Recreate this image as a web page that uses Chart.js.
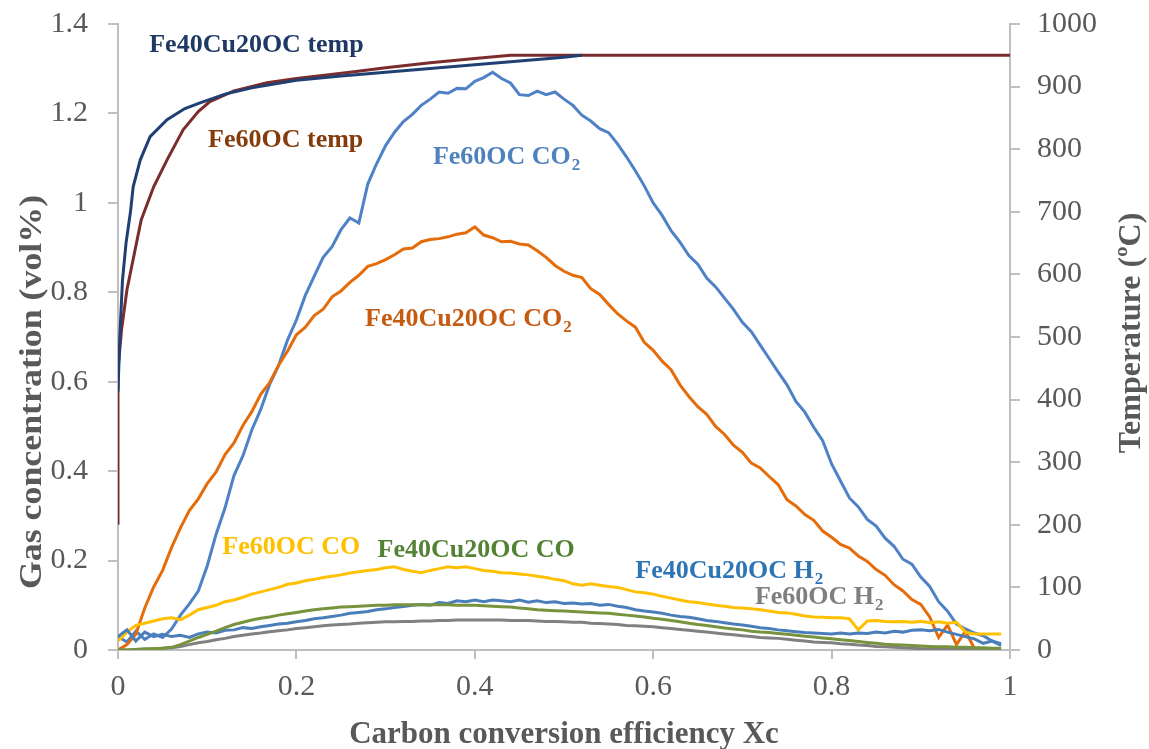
<!DOCTYPE html>
<html>
<head>
<meta charset="utf-8">
<script src="https://cdn.jsdelivr.net/npm/chart.js@4.4.1/dist/chart.umd.min.js"></script>
<style>
  body { margin: 0; background: #fff; }
  #wrap { width: 1149px; height: 749px; }
</style>
</head>
<body>
<div id="wrap"><canvas id="gasChart" width="1149" height="749"></canvas></div>
<script>
// carbon conversion efficiency, shared by all gas series
const xc = [
  0.00, 0.01, 0.02, 0.03, 0.04, 0.05, 0.06, 0.07, 0.08, 0.09,
  0.10, 0.11, 0.12, 0.13, 0.14, 0.15, 0.16, 0.17, 0.18, 0.19,
  0.20, 0.21, 0.22, 0.23, 0.24, 0.25, 0.26, 0.27, 0.28, 0.29,
  0.30, 0.31, 0.32, 0.33, 0.34, 0.35, 0.36, 0.37, 0.38, 0.39,
  0.40, 0.41, 0.42, 0.43, 0.44, 0.45, 0.46, 0.47, 0.48, 0.49,
  0.50, 0.51, 0.52, 0.53, 0.54, 0.55, 0.56, 0.57, 0.58, 0.59,
  0.60, 0.61, 0.62, 0.63, 0.64, 0.65, 0.66, 0.67, 0.68, 0.69,
  0.70, 0.71, 0.72, 0.73, 0.74, 0.75, 0.76, 0.77, 0.78, 0.79,
  0.80, 0.81, 0.82, 0.83, 0.84, 0.85, 0.86, 0.87, 0.88, 0.89,
  0.90, 0.91, 0.92, 0.93, 0.94, 0.95, 0.96, 0.97, 0.98, 0.99
];

// gas concentrations (vol%)
const co2Fe60 = [
  0.03, 0.018, 0.042, 0.024, 0.036, 0.028, 0.047, 0.078, 0.103, 0.132,
  0.188, 0.259, 0.318, 0.39, 0.434, 0.492, 0.538, 0.594, 0.636, 0.693,
  0.738, 0.793, 0.836, 0.878, 0.902, 0.94, 0.966, 0.955, 1.042, 1.088,
  1.128, 1.158, 1.182, 1.198, 1.218, 1.232, 1.248, 1.245, 1.256, 1.255,
  1.272, 1.28, 1.292, 1.278, 1.268, 1.242, 1.24, 1.25, 1.242, 1.248,
  1.232, 1.218, 1.196, 1.183, 1.166, 1.157, 1.132, 1.103, 1.072, 1.038,
  1.0, 0.972, 0.938, 0.912, 0.882, 0.863, 0.832, 0.812, 0.787, 0.762,
  0.733, 0.712, 0.682, 0.652, 0.622, 0.593, 0.556, 0.532, 0.498, 0.468,
  0.416, 0.378, 0.34, 0.32, 0.292, 0.277, 0.25, 0.232, 0.203, 0.192,
  0.163, 0.142, 0.108, 0.087, 0.058, 0.047, 0.038, 0.032, 0.02, 0.014
];
const co2Fe40Cu = [
  0.0, 0.012, 0.035, 0.094, 0.141, 0.178, 0.229, 0.273, 0.312, 0.338,
  0.372, 0.398, 0.437, 0.463, 0.502, 0.533, 0.572, 0.598, 0.637, 0.668,
  0.705, 0.722, 0.748, 0.762, 0.79, 0.803, 0.822, 0.838, 0.858, 0.864,
  0.873, 0.884, 0.897, 0.899, 0.913, 0.918, 0.92, 0.924, 0.93, 0.933,
  0.946, 0.928, 0.922, 0.913, 0.914, 0.908, 0.906, 0.893, 0.878, 0.86,
  0.847, 0.838, 0.833, 0.808, 0.795, 0.773, 0.752, 0.736, 0.722, 0.688,
  0.67, 0.646, 0.627, 0.593, 0.567, 0.544, 0.527, 0.5, 0.482, 0.458,
  0.442, 0.418, 0.407, 0.388, 0.37, 0.336, 0.322, 0.303, 0.29, 0.266,
  0.252, 0.236, 0.228, 0.21, 0.198, 0.18, 0.167, 0.146, 0.132, 0.113,
  0.102, 0.074, 0.028, 0.056, 0.012, 0.042, 0.004, null, null, null
];
const coFe60 = [
  0.02, 0.04, 0.055, 0.06, 0.065, 0.07, 0.072, 0.068, 0.078, 0.09,
  0.095, 0.1, 0.108, 0.112, 0.118, 0.125, 0.13, 0.135, 0.14, 0.147,
  0.15, 0.155, 0.158, 0.162, 0.165, 0.168, 0.172, 0.175, 0.178, 0.18,
  0.184, 0.186, 0.18, 0.176, 0.173, 0.178, 0.182, 0.186, 0.184, 0.186,
  0.182, 0.178, 0.176, 0.173, 0.172, 0.17, 0.168, 0.165, 0.162, 0.158,
  0.155, 0.148, 0.145, 0.148, 0.145, 0.142, 0.14, 0.135, 0.13, 0.128,
  0.125, 0.12, 0.116, 0.112, 0.108, 0.106, 0.103, 0.1, 0.098, 0.095,
  0.094, 0.092, 0.09, 0.087, 0.084, 0.083, 0.08, 0.076, 0.074, 0.073,
  0.072, 0.072, 0.07, 0.045, 0.065, 0.066, 0.064, 0.063, 0.064, 0.062,
  0.064, 0.061, 0.063, 0.06, 0.062, 0.04, 0.036, 0.036, 0.036, 0.036
];
const coFe40Cu = [
  0.0, 0.0, 0.001, 0.002, 0.003, 0.004, 0.006, 0.012, 0.02, 0.028,
  0.035, 0.042, 0.05, 0.057, 0.062, 0.067, 0.071, 0.074, 0.078, 0.081,
  0.084, 0.087, 0.09, 0.092, 0.094, 0.096, 0.097, 0.098, 0.099, 0.1,
  0.1, 0.101, 0.101, 0.101, 0.101, 0.101, 0.101, 0.101, 0.1, 0.1,
  0.1, 0.099, 0.098, 0.097, 0.096, 0.094, 0.092, 0.09, 0.089, 0.088,
  0.087, 0.086, 0.085, 0.084, 0.083, 0.082, 0.08, 0.078, 0.076, 0.074,
  0.071, 0.069, 0.066, 0.063, 0.06, 0.057, 0.055, 0.052, 0.049, 0.047,
  0.045, 0.042, 0.04, 0.039, 0.037, 0.035, 0.033, 0.031, 0.029, 0.027,
  0.025, 0.023, 0.021, 0.019, 0.017, 0.015, 0.013, 0.012, 0.011, 0.01,
  0.009, 0.008, 0.007, 0.007, 0.006, 0.006, 0.005, 0.005, 0.004, 0.004
];
const h2Fe40Cu = [
  0.03, 0.045, 0.02, 0.04, 0.03, 0.035, 0.03, 0.033, 0.028, 0.036,
  0.04, 0.038, 0.044, 0.045, 0.05, 0.048, 0.052, 0.055, 0.058, 0.06,
  0.063, 0.066, 0.07, 0.072, 0.075, 0.078, 0.082, 0.084, 0.086, 0.09,
  0.092, 0.095, 0.097, 0.1, 0.102, 0.1, 0.106, 0.104, 0.11, 0.108,
  0.112, 0.108, 0.112, 0.11, 0.108, 0.112, 0.107, 0.11, 0.106, 0.108,
  0.104, 0.105, 0.103, 0.104, 0.1, 0.102, 0.098, 0.095, 0.09, 0.087,
  0.085, 0.082, 0.078, 0.075, 0.073, 0.07, 0.066, 0.064, 0.061, 0.058,
  0.056, 0.053, 0.05, 0.048, 0.045, 0.043, 0.041, 0.039, 0.038, 0.037,
  0.036, 0.038, 0.036, 0.038, 0.037, 0.04, 0.038, 0.042, 0.04, 0.044,
  0.045, 0.043, 0.046, 0.04, 0.035, 0.03, 0.025, 0.015, 0.02, 0.01
];
const h2Fe60 = [
  0.0, 0.0, 0.001, 0.002, 0.003, 0.004, 0.005, 0.008, 0.012, 0.016,
  0.019, 0.023, 0.026, 0.03, 0.033, 0.036, 0.038, 0.041, 0.043, 0.045,
  0.048, 0.05, 0.052, 0.054, 0.056, 0.057, 0.058, 0.06, 0.061, 0.062,
  0.063, 0.063, 0.064, 0.064, 0.065, 0.065, 0.066, 0.066, 0.067, 0.067,
  0.067, 0.067, 0.067, 0.067, 0.066, 0.066, 0.066, 0.065, 0.064, 0.064,
  0.063, 0.062, 0.062, 0.06, 0.059, 0.058, 0.057, 0.055, 0.054, 0.053,
  0.052, 0.05, 0.048, 0.046, 0.044, 0.042, 0.04, 0.038, 0.036, 0.034,
  0.032, 0.03, 0.028, 0.027, 0.026, 0.024, 0.022, 0.02, 0.018, 0.017,
  0.016, 0.014, 0.013, 0.011, 0.01, 0.008, 0.007, 0.006, 0.005, 0.004,
  0.003, 0.003, 0.002, 0.002, 0.001, 0.001, 0.0, 0.0, 0.0, 0.0
];

// temperatures (right axis, degC)
const tempFe40CuX = [0, 0.002, 0.005, 0.009, 0.014, 0.017, 0.025, 0.036, 0.055, 0.075, 0.092, 0.12, 0.15, 0.2, 0.25, 0.3, 0.35, 0.4, 0.45, 0.5, 0.52];
const tempFe40Cu  = [413, 500, 590, 650, 700, 740, 783, 820, 847, 865, 874, 888, 898, 910, 917, 923, 929, 935, 941, 947, 950];
const tempFe60X = [0, 0, 0.004, 0.01, 0.026, 0.04, 0.055, 0.073, 0.09, 0.103, 0.13, 0.167, 0.2, 0.26, 0.3, 0.35, 0.4, 0.44, 1.0];
const tempFe60  = [200, 448, 512, 575, 687, 740, 783, 831, 860, 876, 893, 906, 913, 923, 930, 938, 945, 950, 950];

const leftTicks = [0, 0.2, 0.4, 0.6, 0.8, 1, 1.2, 1.4];
const rightTicks = [0, 100, 200, 300, 400, 500, 600, 700, 800, 900, 1000];

// in-plot series names (data coords of left end / baseline)
const seriesLabels = [
  { text: "Fe40Cu20OC temp", sub: "",  x: 0.035, y: 1.337, color: "#1f3864" },
  { text: "Fe60OC temp",     sub: "",  x: 0.101, y: 1.124, color: "#843c0c" },
  { text: "Fe60OC CO",       sub: "2", x: 0.353, y: 1.086, color: "#4f81bd" },
  { text: "Fe40Cu20OC CO",   sub: "2", x: 0.277, y: 0.724, color: "#c55a11" },
  { text: "Fe60OC CO",       sub: "",  x: 0.117, y: 0.214, color: "#ffc000" },
  { text: "Fe40Cu20OC CO",   sub: "",  x: 0.291, y: 0.209, color: "#548235" },
  { text: "Fe40Cu20OC H",    sub: "2", x: 0.580, y: 0.162, color: "#2e75b6" },
  { text: "Fe60OC H",        sub: "2", x: 0.714, y: 0.102, color: "#7f7f7f" }
];

const pts = (xs, ys) => xs.map((x, i) => ({ x, y: ys[i] })).filter(p => p.y !== null);

const GREY = "#595959";
const AXIS = "#bfbfbf";
const SERIF = "'Liberation Serif', 'Times New Roman', serif";

function line(label, data, color, axis) {
  return { label, data, borderColor: color, borderWidth: 3, pointRadius: 0, tension: 0, yAxisID: axis, fill: false };
}

// vertical axes: fixed width, no extra top/bottom padding for label overhang
const fitY = w => s => { s.width = w; s.paddingTop = 0; s.paddingBottom = 0; };

const textPlugin = {
  id: "textPlugin",
  afterDraw(chart) {
    const ctx = chart.ctx;
    const xs = chart.scales.x, ys = chart.scales.yGas;
    const area = chart.chartArea;
    ctx.save();
    seriesLabels.forEach(l => {
      const px = xs.getPixelForValue(l.x), py = ys.getPixelForValue(l.y);
      ctx.fillStyle = l.color;
      ctx.textAlign = "left";
      ctx.textBaseline = "alphabetic";
      ctx.font = "bold 26px " + SERIF;
      ctx.fillText(l.text, px, py);
      if (l.sub) {
        const w = ctx.measureText(l.text).width;
        ctx.font = "bold 17px " + SERIF;
        ctx.fillText(l.sub, px + w + 1, py + 6);
      }
    });

    // axis titles
    ctx.fillStyle = GREY;
    ctx.font = "bold 31px " + SERIF;
    ctx.textAlign = "center";
    ctx.fillText("Carbon conversion efficiency Xc", (area.left + area.right) / 2, 743);

    ctx.font = "bold 32px " + SERIF;
    ctx.translate(41, 392);
    ctx.rotate(-Math.PI / 2);
    ctx.scale(1.12, 1);
    ctx.fillText("Gas concentration (vol%)", 0, 0);
    ctx.setTransform(1, 0, 0, 1, 0, 0);

    ctx.translate(1140, 333);
    ctx.rotate(-Math.PI / 2);
    ctx.fillText("Temperature (\u00baC)", 0, 0);
    ctx.restore();
  }
};

new Chart(document.getElementById("gasChart"), {
  type: "line",
  data: {
    datasets: [
      line("Fe40Cu20OC temp", pts(tempFe40CuX, tempFe40Cu), "#203f73", "yTemp"),
      line("Fe60OC temp", pts(tempFe60X, tempFe60), "#7b2c2c", "yTemp"),
      line("Fe40Cu20OC CO", pts(xc, coFe40Cu), "#77933c", "yGas"),
      line("Fe40Cu20OC H2", pts(xc, h2Fe40Cu), "#4a7ebb", "yGas"),
      line("Fe60OC H2", pts(xc, h2Fe60), "#808080", "yGas"),
      line("Fe60OC CO", pts(xc, coFe60), "#ffc000", "yGas"),
      line("Fe40Cu20OC CO2", pts(xc, co2Fe40Cu), "#e46c0a", "yGas"),
      line("Fe60OC CO2", pts(xc, co2Fe60), "#4f81c7", "yGas")
    ]
  },
  options: {
    responsive: false,
    animation: false,
    events: [],
    layout: { padding: { top: 24, left: 0, right: 0, bottom: 0 } },
    plugins: { legend: { display: false }, tooltip: { enabled: false } },
    scales: {
      x: {
        type: "linear",
        min: 0, max: 1,
        afterFit: s => { s.height = 99; s.paddingLeft = 0; s.paddingRight = 0; },
        afterBuildTicks: s => { s.ticks = [0, 0.2, 0.4, 0.6, 0.8, 1].map(v => ({ value: v })); },
        grid: { drawOnChartArea: false, drawTicks: true, tickLength: 9, color: AXIS, lineWidth: 2 },
        border: { display: true, color: AXIS, width: 2 },
        ticks: { color: GREY, font: { family: SERIF, size: 30 }, padding: 10, callback: v => String(Math.round(v * 10) / 10) }
      },
      yGas: {
        position: "left",
        min: 0, max: 1.4,
        afterFit: fitY(118),
        afterBuildTicks: s => { s.ticks = leftTicks.map(v => ({ value: v })); },
        grid: { drawOnChartArea: false, drawTicks: true, tickLength: 10, color: AXIS, lineWidth: 2 },
        border: { display: true, color: AXIS, width: 2 },
        ticks: { color: GREY, font: { family: SERIF, size: 30 }, padding: 20, callback: v => String(Math.round(v * 10) / 10) }
      },
      yTemp: {
        position: "right",
        min: 0, max: 1000,
        afterFit: fitY(139),
        afterBuildTicks: s => { s.ticks = rightTicks.map(v => ({ value: v })); },
        grid: { drawOnChartArea: false, drawTicks: true, tickLength: 10, color: AXIS, lineWidth: 2 },
        border: { display: true, color: AXIS, width: 2 },
        ticks: { color: GREY, font: { family: SERIF, size: 30 }, padding: 17, callback: v => String(v) }
      }
    }
  },
  plugins: [textPlugin]
});
</script>
</body>
</html>
